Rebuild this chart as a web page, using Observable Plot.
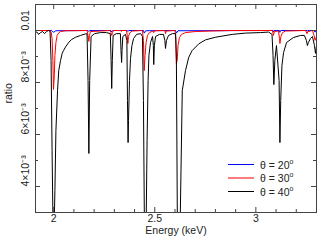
<!DOCTYPE html>
<html><head><meta charset="utf-8">
<script src="https://cdn.jsdelivr.net/npm/d3@7"></script>
<script src="https://cdn.jsdelivr.net/npm/@observablehq/plot@0.6"></script>
<style>
body{margin:0;background:#fff;font-family:"Liberation Sans",Arial,sans-serif;}
#wrap{position:relative;width:319px;height:242px;}
#legend{position:absolute;left:228px;top:158px;font-size:10.5px;color:#222;}
#legend .row{display:flex;align-items:center;height:13.5px;}
#legend .sw{width:26px;margin-right:6px;}
#legend sup{font-size:7px;vertical-align:5px;line-height:0;}
</style></head>
<body><div id="wrap"><div id="legend"></div></div>
<script>
// theta = 40 deg (black)
const blackE = [1.910,1.920,1.925,1.935,1.945,1.955,1.964,1.974,1.982,1.987,1.992,1.997,2.002,2.006,2.011,2.019,2.025,2.034,2.042,2.049,2.058,2.075,2.088,2.108,2.133,2.157,2.165,2.170,2.174,2.178,2.185,2.202,2.232,2.261,2.280,2.284,2.287,2.290,2.294,2.311,2.330,2.333,2.336,2.338,2.342,2.355,2.362,2.365,2.368,2.370,2.375,2.380,2.387,2.395,2.410,2.430,2.439,2.444,2.449,2.457,2.462,2.467,2.471,2.479,2.489,2.493,2.495,2.498,2.504,2.523,2.543,2.550,2.553,2.558,2.568,2.588,2.603,2.607,2.612,2.625,2.636,2.652,2.668,2.685,2.718,2.751,2.800,2.883,2.949,3.023,3.063,3.080,3.085,3.089,3.094,3.102,3.115,3.119,3.123,3.129,3.137,3.152,3.186,3.221,3.240,3.250,3.255,3.260,3.270,3.280,3.290,3.295,3.300];
const blackR = [0.00996,0.00992,0.00985,0.00992,0.00996,0.00988,0.00996,0.01000,0.00996,0.00885,0.00538,0.00231,0.00231,0.00385,0.00615,0.00769,0.00846,0.00885,0.00912,0.00923,0.00936,0.00955,0.00965,0.00974,0.00981,0.00987,0.00987,0.00808,0.00527,0.00808,0.00977,0.00988,0.00992,0.00992,0.00988,0.00885,0.00777,0.00885,0.00981,0.00988,0.00988,0.00923,0.00877,0.00923,0.00977,0.00985,0.00962,0.00731,0.00569,0.00654,0.00808,0.00892,0.00942,0.00969,0.00985,0.00988,0.00977,0.00731,0.00231,0.00231,0.00577,0.00808,0.00904,0.00954,0.00977,0.00942,0.00869,0.00942,0.00977,0.00985,0.00985,0.00962,0.00931,0.00962,0.00981,0.00988,0.00988,0.00885,0.00231,0.00231,0.00769,0.00846,0.00897,0.00923,0.00949,0.00964,0.00974,0.00985,0.00990,0.00992,0.00994,0.00985,0.00904,0.00792,0.00885,0.00942,0.00808,0.00569,0.00731,0.00865,0.00915,0.00954,0.00973,0.00981,0.00981,0.00962,0.00942,0.00954,0.00969,0.00977,0.00942,0.00912,0.00942];
// theta = 30 deg (red)
const redE = [1.910,1.979,1.987,1.992,1.996,1.999,2.003,2.006,2.011,2.017,2.024,2.034,2.058,2.165,2.170,2.174,2.177,2.182,2.279,2.283,2.287,2.291,2.296,2.333,2.335,2.338,2.360,2.364,2.367,2.370,2.377,2.390,2.439,2.444,2.448,2.452,2.457,2.464,2.474,2.491,2.495,2.499,2.551,2.553,2.556,2.600,2.604,2.607,2.611,2.615,2.622,2.632,2.652,2.701,2.776,2.875,3.082,3.087,3.092,3.112,3.117,3.119,3.124,3.132,3.147,3.246,3.253,3.258,3.280,3.288,3.293,3.300];
const redR = [0.01000,0.01000,0.00996,0.00969,0.00885,0.00773,0.00827,0.00904,0.00954,0.00981,0.00990,0.00996,0.00999,0.01000,0.00981,0.00958,0.00981,0.00996,0.01000,0.00992,0.00981,0.00992,0.01000,0.01000,0.00996,0.01000,0.01000,0.00981,0.00950,0.00977,0.00992,0.00998,0.01000,0.00962,0.00846,0.00904,0.00954,0.00981,0.00992,0.00998,0.00992,0.00999,0.01000,0.00988,0.00998,0.01000,0.00969,0.00873,0.00885,0.00942,0.00973,0.00985,0.00992,0.00996,0.00998,0.01000,0.01000,0.00981,0.00996,0.00998,0.00969,0.00950,0.00977,0.00992,0.00998,0.01000,0.00988,0.00996,0.01000,0.00981,0.00962,0.00977];
// theta = 20 deg (blue)
const blueE = [1.910,1.990,1.999,2.010,2.170,2.174,2.178,2.283,2.287,2.292,2.364,2.367,2.371,2.444,2.448,2.455,2.603,2.607,2.615,3.085,3.087,3.090,3.117,3.119,3.123,3.253,3.255,3.258,3.288,3.292,3.300];
const blueR = [0.01000,0.01000,0.00993,0.00999,0.01000,0.00996,0.01000,0.01000,0.00994,0.01000,0.01000,0.00996,0.01000,0.01000,0.00990,0.00999,0.01000,0.00990,0.00999,0.01000,0.00995,0.01000,0.01000,0.00993,0.01000,0.01000,0.00997,0.01000,0.01000,0.00994,0.00998];

const xMajor = [2, 2.5, 3];
const xMajorLabels = ["2", "2.5", "3"];
const xMinor = [2.1,2.2,2.3,2.4,2.6,2.7,2.8,2.9,3.1,3.2];
const yMajor = [0.004, 0.006, 0.008, 0.01];
const yMajorLabels = ["4×10⁻³", "6×10⁻³", "8×10⁻³", "0.01"];
const yMinor = [0.005, 0.007, 0.009];
const seriesNames = ["θ = 20", "θ = 30", "θ = 40"];
const seriesColors = ["blue", "red", "black"];

const toRows = (E, R) => E.map((e, i) => ({e, r: R[i]}));
const W = 319, H = 242, mL = 35, mR = 3, mT = 4, mB = 30;
const iw = W - mL - mR, ih = H - mT - mB;

const chart = Plot.plot({
  width: W, height: H,
  marginLeft: mL, marginRight: mR, marginTop: mT, marginBottom: mB,
  x: {domain: [1.91, 3.3], axis: null},
  y: {domain: [0.003, 0.011], axis: null},
  style: {fontFamily: '"Liberation Sans", Arial, sans-serif', fontSize: "10px", background: "white", color: "#222"},
  marks: [
    Plot.line(toRows(blueE, blueR), {x: "e", y: "r", stroke: seriesColors[0], strokeWidth: 1, clip: true}),
    Plot.line(toRows(redE, redR), {x: "e", y: "r", stroke: seriesColors[1], strokeWidth: 1, clip: true}),
    Plot.line(toRows(blackE, blackR), {x: "e", y: "r", stroke: seriesColors[2], strokeWidth: 1, clip: true}),
    Plot.tickX(xMajor, {x: d => d, insetTop: ih - 5, stroke: "#444"}),
    Plot.tickX(xMajor, {x: d => d, insetBottom: ih - 5, stroke: "#444"}),
    Plot.tickX(xMinor, {x: d => d, insetTop: ih - 3, stroke: "#444"}),
    Plot.tickX(xMinor, {x: d => d, insetBottom: ih - 3, stroke: "#444"}),
    Plot.tickY(yMajor, {y: d => d, insetRight: iw - 5, stroke: "#444"}),
    Plot.tickY(yMajor, {y: d => d, insetLeft: iw - 5, stroke: "#444"}),
    Plot.tickY(yMinor, {y: d => d, insetRight: iw - 3, stroke: "#444"}),
    Plot.tickY(yMinor, {y: d => d, insetLeft: iw - 3, stroke: "#444"}),
    Plot.frame({stroke: "#444"}),
    Plot.text(xMajor, {x: d => d, text: (d, i) => xMajorLabels[i], frameAnchor: "bottom", dy: 9, fontSize: 10.5}),
    Plot.text(yMajor, {y: d => d, text: (d, i) => yMajorLabels[i], frameAnchor: "left", dx: -10, rotate: -90, fontSize: 10.5}),
    Plot.text(["Energy (keV)"], {frameAnchor: "bottom", dy: 21, fontSize: 10.5}),
    Plot.text(["ratio"], {frameAnchor: "left", dx: -27, dy: -5, rotate: -90, fontSize: 10.5})
  ]
});
document.getElementById("wrap").prepend(chart);

const legend = document.getElementById("legend");
const swatchStyles = [
  {bg: "blue", h: 1},
  {bg: "#ff7a7a", h: 2},
  {bg: "black", h: 1}
];
seriesNames.forEach((name, i) => {
  const row = document.createElement("div");
  row.className = "row";
  const sw = document.createElement("div");
  sw.className = "sw";
  sw.style.background = swatchStyles[i].bg;
  sw.style.height = swatchStyles[i].h + "px";
  const label = document.createElement("span");
  label.innerHTML = name + "<sup>o</sup>";
  row.append(sw, label);
  legend.append(row);
});
</script>
</body></html>
